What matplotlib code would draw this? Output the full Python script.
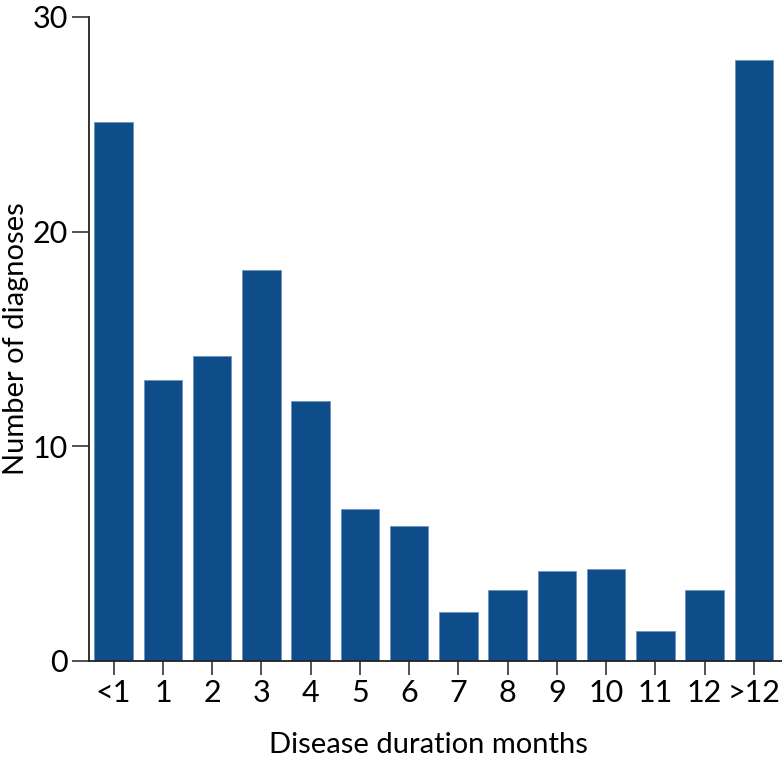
import matplotlib
matplotlib.use('Agg')
import matplotlib.pyplot as plt

# Data
categories = ['<1', '1', '2', '3', '4', '5', '6', '7', '8', '9', '10', '11', '12', '>12']
counts = [25.1, 13.1, 14.2, 18.2, 12.1, 7.1, 6.3, 2.3, 3.3, 4.2, 4.3, 1.4, 3.3, 28.0]

plt.rcParams['font.family'] = ['Lato', 'DejaVu Sans']

fig = plt.figure(figsize=(7.82, 7.68), dpi=100)
ax = fig.add_axes([89 / 782, 107 / 768, 1 - 89 / 782, (661 - 17) / 768])

x = range(len(categories))
ax.bar(x, counts, width=0.78, color='#0f4c8a', edgecolor='#6f94c0', linewidth=0.6)

ax.set_xlim(-0.5, 13.57)
ax.set_ylim(0, 30)
ax.set_xticks(list(x))
ax.set_xticklabels(categories)
ax.set_yticks([0, 10, 20, 30])

for s in ['top', 'right']:
    ax.spines[s].set_visible(False)
ax.spines['left'].set_color('#222222')
ax.spines['bottom'].set_color('#222222')
ax.spines['left'].set_linewidth(1.3)
ax.spines['bottom'].set_linewidth(1.3)

ax.tick_params(axis='x', length=10, width=1.2, color='#333333', labelsize=22, pad=3)
ax.tick_params(axis='y', length=12, width=1.2, color='#333333', labelsize=22, pad=3)

ax.set_xlabel('Disease duration months', fontsize=21, va='center')
ax.set_ylabel('Number of diagnoses', fontsize=21, va='center')
ax.xaxis.set_label_coords(0.49, -0.13)
ax.yaxis.set_label_coords(-0.106, 0.5)

fig.savefig('out.png', dpi=100)
